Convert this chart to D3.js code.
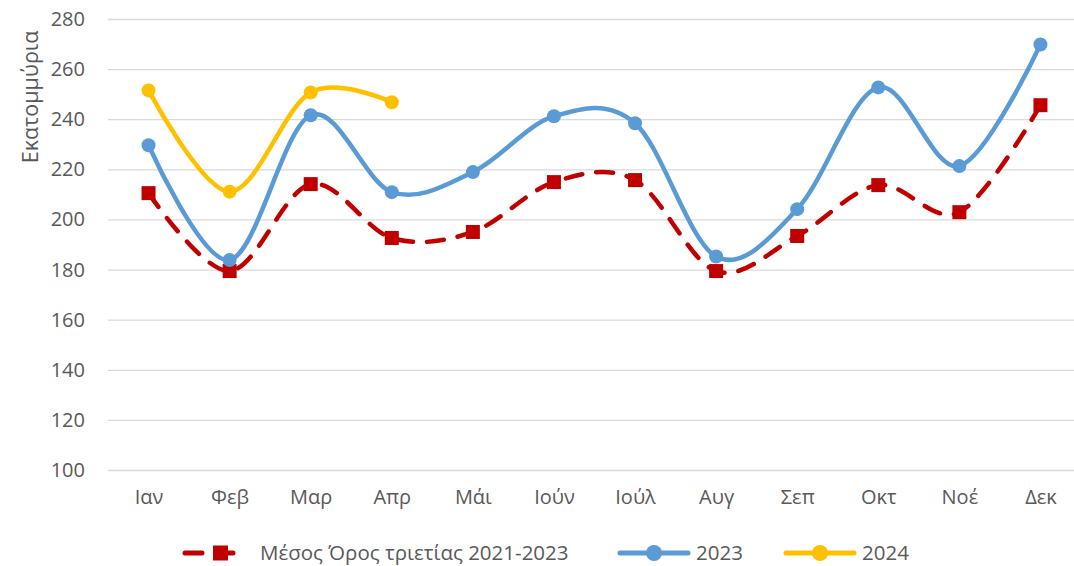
<!DOCTYPE html>
<html>
<head>
<meta charset="utf-8">
<script src="https://cdn.jsdelivr.net/npm/d3@7"></script>
<style>
  body { margin: 0; background: #fff; }
  text { font-family: "Open Sans", "Noto Sans", sans-serif; fill: #595959; }
</style>
</head>
<body>
<div id="chart"></div>
<script>
// month labels
var months = ["Ιαν", "Φεβ", "Μαρ", "Απρ", "Μάι", "Ιούν", "Ιούλ", "Αυγ", "Σεπ", "Οκτ", "Νοέ", "Δεκ"];

// series values (millions)
var avg3y = [210.7, 179.6, 214.3, 192.8, 195.2, 215.1, 215.9, 179.6, 193.6, 213.9, 203.1, 245.8];
var y2023 = [229.8, 184.0, 241.8, 211.1, 219.1, 241.4, 238.6, 185.4, 204.3, 252.9, 221.5, 270.0];
var y2024 = [251.7, 211.3, 250.9, 247.0];

var yTicks = [100, 120, 140, 160, 180, 200, 220, 240, 260, 280];

var svgWidth = 1074;
var svgHeight = 566;

var margin = { top: 19.5, right: 0, bottom: 95.5, left: 108 };
var width = 1081 - margin.left;
var height = svgHeight - margin.top - margin.bottom;

var svg = d3.select("#chart")
  .append("svg")
  .attr("width", svgWidth)
  .attr("height", svgHeight);

var chartGroup = svg.append("g")
  .attr("transform", `translate(${margin.left}, ${margin.top})`);

var xScale = d3.scalePoint()
  .domain(months)
  .range([0, width])
  .padding(0.5);

var yScale = d3.scaleLinear()
  .domain([100, 280])
  .range([height, 0]);

// gridlines
chartGroup.append("g")
  .selectAll("line")
  .data(yTicks)
  .enter()
  .append("line")
  .attr("x1", 0)
  .attr("x2", width)
  .attr("y1", d => yScale(d))
  .attr("y2", d => yScale(d))
  .attr("stroke", "#d9d9d9")
  .attr("stroke-width", 1.3);

// y axis
var leftAxis = d3.axisLeft(yScale).tickValues(yTicks).tickSize(0).tickPadding(23);
var yAxis = chartGroup.append("g").call(leftAxis);
yAxis.select(".domain").remove();
yAxis.selectAll("text").style("font-size", "20px").attr("fill", "#595959").attr("dy", "0.3em");

// x axis
var bottomAxis = d3.axisBottom(xScale).tickSize(0).tickPadding(19);
var xAxis = chartGroup.append("g")
  .attr("transform", `translate(0, ${height})`)
  .call(bottomAxis);
xAxis.select(".domain").remove();
xAxis.selectAll("text").style("font-size", "20px").attr("fill", "#595959");

// axis title
chartGroup.append("text")
  .attr("transform", "rotate(-90)")
  .attr("x", -(97 - margin.top))
  .attr("y", -margin.left + 38)
  .attr("text-anchor", "middle")
  .style("font-size", "21.5px")
  .text("Εκατομμύρια");

var line = d3.line()
  .x((d, i) => xScale(months[i]))
  .y(d => yScale(d))
  .curve(d3.curveCardinal.tension(0));

// average line
chartGroup.append("path")
  .datum(avg3y)
  .attr("d", line)
  .attr("fill", "none")
  .attr("stroke", "#c00000")
  .attr("stroke-width", 4.5)
  .attr("stroke-dasharray", "17,14")
  .attr("stroke-linecap", "round");

chartGroup.selectAll(".sq")
  .data(avg3y)
  .enter()
  .append("rect")
  .attr("class", "sq")
  .attr("x", (d, i) => xScale(months[i]) - 7)
  .attr("y", d => yScale(d) - 7)
  .attr("width", 14)
  .attr("height", 14)
  .attr("fill", "#c00000");

// 2023
chartGroup.append("path")
  .datum(y2023)
  .attr("d", line)
  .attr("fill", "none")
  .attr("stroke", "#5b9bd5")
  .attr("stroke-width", 4.5);

chartGroup.selectAll(".c23")
  .data(y2023)
  .enter()
  .append("circle")
  .attr("class", "c23")
  .attr("cx", (d, i) => xScale(months[i]))
  .attr("cy", d => yScale(d))
  .attr("r", 7)
  .attr("fill", "#5b9bd5");

// 2024
chartGroup.append("path")
  .datum(y2024)
  .attr("d", line)
  .attr("fill", "none")
  .attr("stroke", "#ffc000")
  .attr("stroke-width", 4.5);

chartGroup.selectAll(".c24")
  .data(y2024)
  .enter()
  .append("circle")
  .attr("class", "c24")
  .attr("cx", (d, i) => xScale(months[i]))
  .attr("cy", d => yScale(d))
  .attr("r", 7)
  .attr("fill", "#ffc000");

// legend
var legend = svg.append("g").attr("transform", "translate(0, 553)");

var legItems = [
  { name: "Μέσος Όρος τριετίας 2021-2023", color: "#c00000", x: 185, dash: true },
  { name: "2023", color: "#5b9bd5", x: 620, dash: false },
  { name: "2024", color: "#ffc000", x: 786, dash: false }
];

legItems.forEach(function(item) {
  var g = legend.append("g").attr("transform", `translate(${item.x}, 0)`);
  g.append("line")
    .attr("x1", 0)
    .attr("x2", item.dash ? 62 : 68)
    .attr("stroke", item.color)
    .attr("stroke-width", 5)
    .attr("stroke-linecap", "round")
    .attr("stroke-dasharray", item.dash ? "17,14" : null);
  if (item.dash) {
    g.append("rect").attr("x", 28).attr("y", -7.5).attr("width", 15).attr("height", 15).attr("fill", item.color);
  } else {
    g.append("circle").attr("cx", 34).attr("r", 8).attr("fill", item.color);
  }
  g.append("text")
    .attr("x", item.dash ? 75 : 76)
    .attr("dy", "0.35em")
    .style("font-size", "20.5px")
    .text(item.name);
});
</script>
</body>
</html>
